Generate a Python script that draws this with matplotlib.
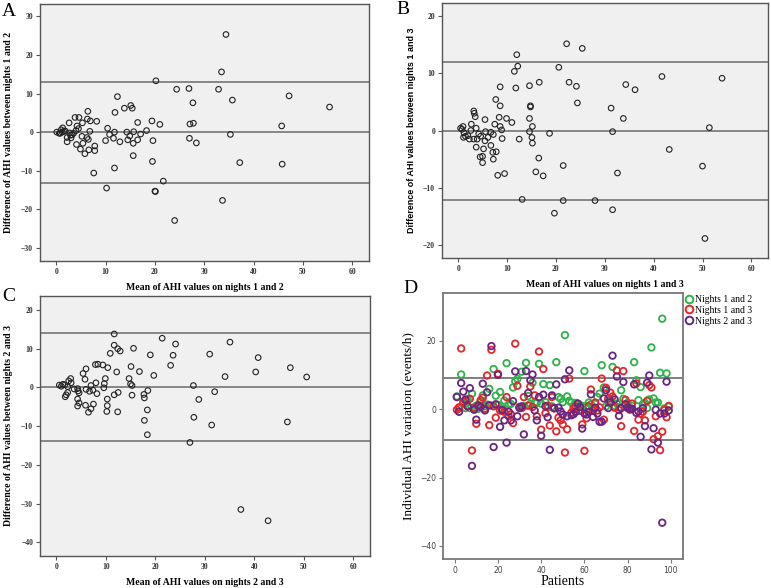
import matplotlib
matplotlib.use("Agg")
import matplotlib.pyplot as plt
from matplotlib.lines import Line2D

# ---------------- Panel A data (nights 1 and 2) ----------------
A_mean = [34.4, 33.5, 20.2, 24.4, 26.9, 32.9, 12.4, 47.2, 35.7, 27.7, 55.4, 15.1, 13.8, 15.4,
          6.4, 11.9, 6.3, 6.9, 8.2, 19.4, 16.5, 21.0, 27.1, 27.8, 45.7, 3.8, 4.6, 2.6, 5.3,
          4.2, 4.5, 10.4, 18.3, 1.3, 6.8, 11.8, 14.3, 15.7, 10.8, 17.1, 35.3, 14.9, 5.2, 11.6,
          6.2, 6.5, 10.0, 12.9, 14.5, 16.5, 15.6, 19.6, 27.0, 28.4, 4.1, 7.8, 5.4, 4.9, 6.6,
          7.8, 5.8, 15.6, 19.5, 37.2, 45.8, 11.8, 7.6, 21.7, 10.2, 20.1, 20.0, 33.7, 24.0,
          0.1, 0.8, 2.2, 2.2, 3.2, 3.0, 3.5, 2.7, 1.8, 1.2, 0.6, 1.0, 1.5, 2.9, 4.0]
A_diff = [25.3, 15.6, 13.3, 11.1, 11.3, 11.1, 9.2, 9.4, 8.3, 7.6, 6.5, 6.9, 6.2, 6.2,
          5.4, 5.1, 3.4, 2.9, 2.8, 2.9, 2.5, 2.0, 2.1, 2.3, 1.6, 3.8, 3.8, 2.4, 2.4,
          1.6, 0.9, 1.0, 0.4, 1.1, 0.2, 0.0, 0.0, 0.1, -0.6, -0.5, -0.6, -1.0, -1.1, -1.6,
          -1.4, -1.9, -2.2, -2.5, -2.0, -2.0, -2.9, -2.2, -1.6, -2.8, -3.2, -3.6, -2.9, -4.4, -4.6,
          -4.8, -5.6, -6.1, -7.6, -7.9, -8.3, -9.3, -10.6, -12.7, -14.5, -15.4, -15.3, -17.7, -22.9,
          0.0, -0.3, -1.4, -2.5, -0.7, -1.5, -0.3, -0.2, 0.3, 0.0, -0.3, 0.6, 0.2, -0.8, 0.4]
A_limits = [13.0, 0.0, -13.3]

# ---------------- Panel B data (nights 1 and 3) ----------------
B_mean = [22.2, 25.4, 12.0, 12.2, 11.5, 20.6, 41.7, 54.0, 16.6, 22.7, 34.3, 36.2, 24.2, 14.6,
          8.6, 11.8, 7.7, 24.4, 8.6, 14.8, 14.8, 31.3, 3.2, 3.3, 3.5, 8.4, 5.5, 9.9, 14.6,
          33.8, 11.0, 7.5, 2.7, 15.2, 8.6, 51.4, 8.9, 0.5, 1.0, 3.7, 14.6, 31.6, 18.7, 5.6,
          6.7, 7.2, 1.2, 1.5, 1.1, 2.3, 3.2, 3.9, 6.1, 5.5, 9.0, 12.5, 15.1, 15.2, 6.7, 3.7,
          5.2, 43.2, 7.8, 7.1, 5.0, 4.5, 16.5, 7.2, 5.0, 21.5, 50.0, 15.9, 32.6, 9.5, 8.1,
          17.4, 13.1, 21.5, 28.0, 31.6, 19.7, 50.5, 0.8, 2.0, 2.6, 4.2, 4.6]
B_diff = [15.1, 14.3, 13.2, 11.2, 10.3, 11.0, 9.4, 9.1, 8.4, 8.4, 8.0, 7.1, 7.7, 7.8,
          7.6, 7.4, 5.4, 4.8, 4.3, 4.3, 4.1, 3.9, 3.4, 3.0, 2.4, 2.3, 1.9, 2.1, 2.1,
          2.1, 1.4, 1.1, 1.1, 0.7, 0.7, 0.5, 0.1, 0.4, 0.7, 0.4, -0.2, -0.2, -0.5, -0.2,
          -0.3, -0.7, -0.4, -1.0, -1.2, -1.5, -1.5, -1.5, -1.2, -1.8, -1.4, -1.5, -1.2, -2.2, -2.6, -2.9,
          -3.2, -3.3, -3.7, -3.8, -4.5, -4.6, -4.8, -5.0, -5.6, -6.1, -6.2, -7.2, -7.4, -7.5, -7.8,
          -7.9, -12.0, -12.2, -12.2, -13.8, -14.4, -18.8, 0.2, -0.9, 0.0, -0.6, -1.0]
B_limits = [11.9, 0.0, -12.1]

# ---------------- Panel C data (nights 2 and 3) ----------------
C_mean = [11.7, 21.4, 35.1, 11.7, 24.1, 12.4, 12.9, 15.6, 10.9, 31.0, 19.0, 23.6, 40.8, 8.4,
          7.9, 9.4, 23.1, 15.1, 10.4, 47.3, 6.0, 12.2, 16.8, 40.3, 5.4, 19.7, 34.1, 50.6, 5.8,
          9.9, 14.7, 2.9, 2.5, 8.0, 9.7, 15.0, 15.3, 27.7, 7.0, 9.6, 0.6, 1.0, 1.7, 2.3, 6.0,
          7.4, 6.7, 4.3, 4.4, 4.6, 18.5, 32.0, 12.5, 8.2, 11.7, 15.3, 17.7, 17.8, 2.3, 1.8,
          10.3, 4.3, 28.8, 4.6, 7.5, 5.9, 10.3, 4.3, 7.0, 18.4, 10.2, 6.5, 12.4, 27.8, 17.8,
          46.7, 31.4, 18.4, 27.0, 37.3, 42.8, 1.3, 3.0, 3.6, 2.0]
C_diff = [13.8, 12.7, 11.7, 10.9, 11.2, 10.0, 9.4, 10.1, 8.8, 8.6, 8.4, 8.3, 7.7, 6.0,
          5.9, 5.8, 5.7, 5.4, 5.1, 5.1, 4.8, 4.0, 4.1, 4.0, 3.6, 3.1, 2.8, 2.7, 2.1,
          2.3, 2.3, 2.3, 1.7, 1.2, 1.0, 0.9, 0.5, 0.5, 0.5, -0.1, 0.6, 0.3, 0.7, 0.2, -0.5,
          -0.7, -1.0, -0.3, -0.9, -1.4, -0.8, -1.1, -1.3, -1.6, -1.9, -2.0, -1.8, -2.7, -1.3, -2.4,
          -3.0, -3.0, -3.1, -4.0, -4.3, -4.6, -4.7, -4.8, -5.5, -5.8, -6.2, -6.4, -6.3, -7.7, -8.5,
          -8.9, -9.7, -12.2, -14.2, -31.5, -34.4, 0.8, 1.2, -0.4, -1.9]
C_limits = [14.1, 0.0, -13.9]

# ---------------- Panel D data (individual variation) ----------------
patients = list(range(1, 100))
D_n12 = [3.7, 0.2, 10.1, 1.6, 0.3, 2.8, 0.3, 4.5, 0.5, 1.0, 0.1, 2.0, 4.0, 0.8, 1.3, 5.9, 1.0, 11.7,
         3.9, 1.2, 5.0, 0.2, 2.5, 13.4, 1.4, 1.5, 6.3, 8.1, 8.8, 0.5, 10.9, 0.8, 13.5, 3.8, 1.5,
         7.7, 1.9, 1.8, 13.2, 1.6, 7.3, 2.0, 0.5, 7.0, 0.8, 0.3, 13.7, 3.5, 3.0, 2.0, 21.6, 3.7,
         2.4, 1.9, 0.8, 1.8, 0.5, 1.0, 0.9, 11.1, 0.8, 1.9, 1.4, 0.3, 1.5, 3.5, 4.5, 12.8, 6.3,
         0.8, 1.8, 2.5, 12.3, 0.9, 1.6, 0.5, 5.5, 3.0, 1.3, 1.8, 0.2, 0.9, 13.7, 8.4, 2.6, 6.4,
         1.4, 1.8, 0.3, 2.8, 18.0, 3.1, 1.9, 1.9, 10.6, 26.4, 0.2, 10.4, 0.7]
D_n13 = [-0.2, 0.5, 17.7, 2.2, 2.5, 0.8, 3.0, -12.1, 0.3, -4.3, 0.9, 2.6, 3.3, 0.1, 9.8, -4.7,
         17.3, 0.8, -2.5, 10.3, -0.4, -0.5, -0.8, 3.5, -2.1, -1.5, -4.1, 19.1, 6.8, 0.6, 0.3,
         3.5, -2.3, 1.0, 6.6, 0.6, 4.0, -2.1, 16.8, -6.0, 11.7, -1.2, 1.0, -4.8, 3.5, 0.2, -6.5,
         -2.5, -3.3, -4.5, -12.7, -5.9, 8.9, -1.0, 0.1, 0.8, 1.5, -0.5, -4.5, -12.2, -2.7, 0.8,
         5.7, -0.5, 1.9, -0.4, 0.5, 8.9, -3.1, 6.2, 3.0, 4.8, 3.7, 0.4, 11.3, -0.3, -5.0, 11.1,
         2.7, 0.5, -0.2, 1.6, -6.4, 7.5, -3.1, -1.3, -0.8, -3.3, 2.4, 7.0, 6.3, -8.8, -2.1, -7.9,
         -12.0, -6.6, -0.3, -2.4, 0.9]
D_n23 = [3.5, -0.8, 7.6, 5.1, 2.8, 0.8, 6.1, -16.6, -0.2, -3.1, 1.1, 0.6, 7.4, -0.4, 4.9, 1.1,
         18.4, -11.1, 1.4, 10.0, -5.2, -0.3, -3.3, -9.8, -0.8, -3.3, 2.3, 11.0, -2.1, 0.3, 0.8,
         -7.4, 11.1, 4.7, 8.4, 10.1, -0.4, -3.3, 3.5, -7.8, 4.2, 0.8, -2.4, -11.9, 4.0, 0.3, 7.2,
         0.4, -0.7, -1.6, 8.7, -2.1, 11.3, -1.8, -1.5, -0.8, 1.6, 0.6, -5.7, -1.3, -1.6, -0.8,
         4.3, -2.3, 0.4, -1.3, -3.7, -3.7, 3.1, 5.5, 0.3, 2.0, 15.6, 2.8, 9.5, -2.0, 0.3, 7.9,
         1.4, 0.3, 0.1, 0.1, 7.2, -1.1, -0.7, -8.1, 0.3, -5.0, 7.7, 9.8, -11.8, -5.6, -0.2, -9.8,
         -1.3, -33.2, -1.3, 8.0, -0.4]
D_limits = [9.1, -9.1]
D_labels = ["Nights 1 and 2", "Nights 1 and 3", "Nights 2 and 3"]
D_colors = ["#2db34a", "#e3262b", "#6b2580"]

W, H = 771, 588
fig = plt.figure(figsize=(W / 100, H / 100), dpi=100)
SERIF = ["Liberation Serif", "DejaVu Serif"]
SANS = ["Liberation Sans", "DejaVu Sans"]


def px_axes(l, t, r, b):
    return fig.add_axes([l / W, 1 - b / H, (r - l) / W, (b - t) / H])


def bland(ax, xs, ys, lims, ylimv, yticks, xlabel, ylabel, yfont):
    ax.set_facecolor("#f0f0f0")
    for v in lims:
        ax.axhline(v, color="#6a6a6a", lw=1.1, zorder=1)
    ax.scatter(xs, ys, s=16, facecolors="none", edgecolors="#222222", linewidths=0.8, zorder=3)
    ax.set_xlim(-3.3, 63.4)
    ax.set_ylim(*ylimv)
    ax.set_xticks(range(0, 61, 10))
    ax.set_yticks(yticks)
    for sp in ax.spines.values():
        sp.set_color("#555555")
        sp.set_linewidth(1.0)
    ax.tick_params(axis="both", length=3, width=0.8, color="#555555", labelsize=5.5, pad=2)
    for lab in ax.get_xticklabels() + ax.get_yticklabels():
        lab.set_family(SERIF)
        lab.set_fontweight("bold")
        lab.set_color("#333333")
    ax.set_xlabel(xlabel, family=SERIF, fontweight="bold", fontsize=7, labelpad=5)
    if yfont == "sans":
        ax.set_ylabel(ylabel, family=SANS, fontweight="bold", fontsize=6.5, labelpad=5)
    else:
        ax.set_ylabel(ylabel, family=SERIF, fontweight="bold", fontsize=7, labelpad=5.5)


axA = px_axes(40, 4, 369, 261)
bland(axA, A_mean, A_diff, A_limits, (-33.4, 33.2), range(-30, 31, 10),
      "Mean of AHI values on nights 1 and 2", "Difference of AHI values between nights 1 and 2", "serif")

axB = px_axes(442, 3, 768, 258)
bland(axB, B_mean, B_diff, B_limits, (-22.2, 22.2), range(-20, 21, 10),
      "Mean of AHI values on nights 1 and 3", "Difference of AHI values between nights 1 and 3", "sans")

axC = px_axes(40, 296, 370, 556)
bland(axC, C_mean, C_diff, C_limits, (-43.5, 23.6), range(-40, 21, 10),
      "Mean of AHI values on nights 2 and 3", "Difference of AHI values between nights 2 and 3", "serif")

# Panel D
axD = px_axes(443, 293, 683, 559)
for v in D_limits:
    axD.axhline(v, color="#6a6a6a", lw=1.2, zorder=1)
for vals, col, lab in zip([D_n12, D_n13, D_n23], D_colors, D_labels):
    axD.scatter(patients, vals, s=22, facecolors="none", edgecolors=col, linewidths=1.3,
                zorder=3, label=lab)
axD.set_xlim(-5.4, 105.6)
axD.set_ylim(-43.8, 33.9)
axD.set_xticks(range(0, 101, 20))
axD.set_yticks([-40, -20, 0, 20])
for sp in axD.spines.values():
    sp.set_color("#777777")
    sp.set_linewidth(1.3)
axD.tick_params(axis="both", length=3, width=0.8, color="#777777", labelsize=5.5,
                labelcolor="#444444", pad=2)
axD.set_xlabel("Patients", family=SERIF, fontsize=10, labelpad=0)
axD.set_ylabel("Individual AHI variation (events/h)", family=SERIF, fontsize=9.5, labelpad=4)
handles = [Line2D([0], [0], marker="o", ls="none", markersize=5.5, markerfacecolor="none",
                  markeredgecolor=c, markeredgewidth=1.4) for c in D_colors]
axD.legend(handles, D_labels, loc="upper left", bbox_to_anchor=(1.0, 1.0), frameon=False,
           prop={"family": SERIF, "size": 7}, handletextpad=0.15, borderaxespad=0.0,
           labelspacing=0.2, handlelength=0.9, borderpad=0.2)

# Panel letters
for letter, x, y in [("A", 9, 12), ("B", 403, 9), ("C", 9, 297), ("D", 410, 289)]:
    fig.text(x / W, 1 - y / H, letter, family=SERIF, fontsize=14, ha="center", va="center")

fig.savefig("out.png", dpi=100, facecolor="white")
